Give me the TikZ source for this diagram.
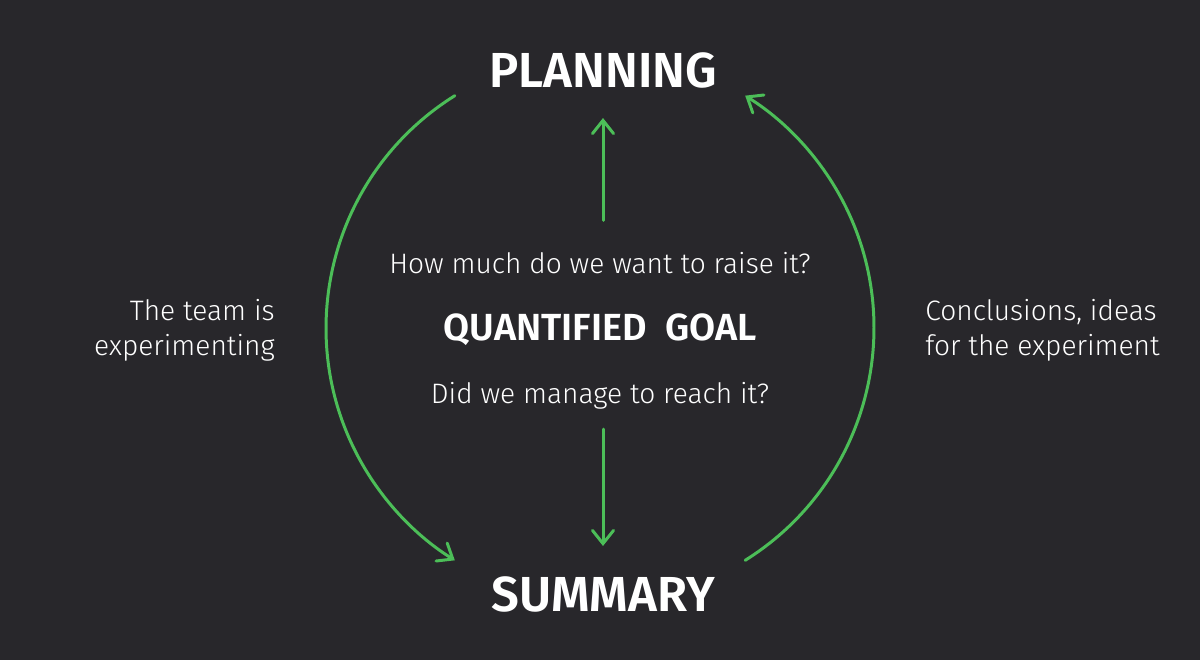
\documentclass[tikz,border=0pt]{standalone}
\usepackage{fontspec}
\setmainfont{Fira Sans}
\newfontfamily\lightfont{Fira Sans Light}
\newfontfamily\heavyfont{Fira Sans SemiBold}
\usepackage{tikz}
\usetikzlibrary{arrows.meta, positioning, calc}
\definecolor{bgdark}{RGB}{40,39,43}
\definecolor{loopgreen}{RGB}{76,190,88}
\tikzstyle{title} = [text=white, font=\heavyfont\fontsize{28}{32}\selectfont, inner sep=0pt]
\tikzstyle{question} = [text=white, font=\lightfont\fontsize{16}{20}\selectfont, inner sep=0pt]
\tikzstyle{side} = [text=white, font=\lightfont\fontsize{16}{20}\selectfont, inner sep=0pt]
\tikzstyle{arrow} = [draw=loopgreen, line width=1.7pt, line cap=round, -{Straight Barb[length=7.5pt, width=12pt, line cap=round]}]

\begin{document}
\begin{tikzpicture}[x=0.02cm, y=0.02cm]
              \fill[bgdark] (0,0) rectangle (1200,660);
              \useasboundingbox (0,0) rectangle (1200,660);

              \node[title] (plan) at (603,590) {PLANNING};
              \node[title] (summ) at (603,66) {SUMMARY};
              \node[title, font=\heavyfont\fontsize{21.5}{26}\selectfont] (goal) at (600,330) {QUANTIFIED\ \ GOAL};
              \node[question] (how) at (600,397) {How much do we want to raise it?};
              \node[question] (did) at (600,264) {Did we manage to reach it?};

              \node[side, align=right, anchor=east] (team) at (275,330) {The team is\\experimenting};
              \node[side, align=left, anchor=west] (concl) at (925,330) {Conclusions, ideas\\for the experiment};

              \coordinate (c) at (600,332);
              \coordinate (ltop) at ($(c)+(122:5.48cm)$);
              \coordinate (rbot) at ($(c)+(-58:5.48cm)$);

              \draw[arrow, shorten <=18pt, shorten >=17pt] (plan.south |- how.north) -- (plan.south);
              \draw[arrow, shorten <=11pt, shorten >=17pt] (summ.north |- did.south) -- (summ.north);
              \draw[arrow] (ltop) arc[start angle=122, end angle=238, radius=5.48cm];
              \draw[arrow] (rbot) arc[start angle=-58, end angle=58, radius=5.48cm];

          \end{tikzpicture}
\end{document}
